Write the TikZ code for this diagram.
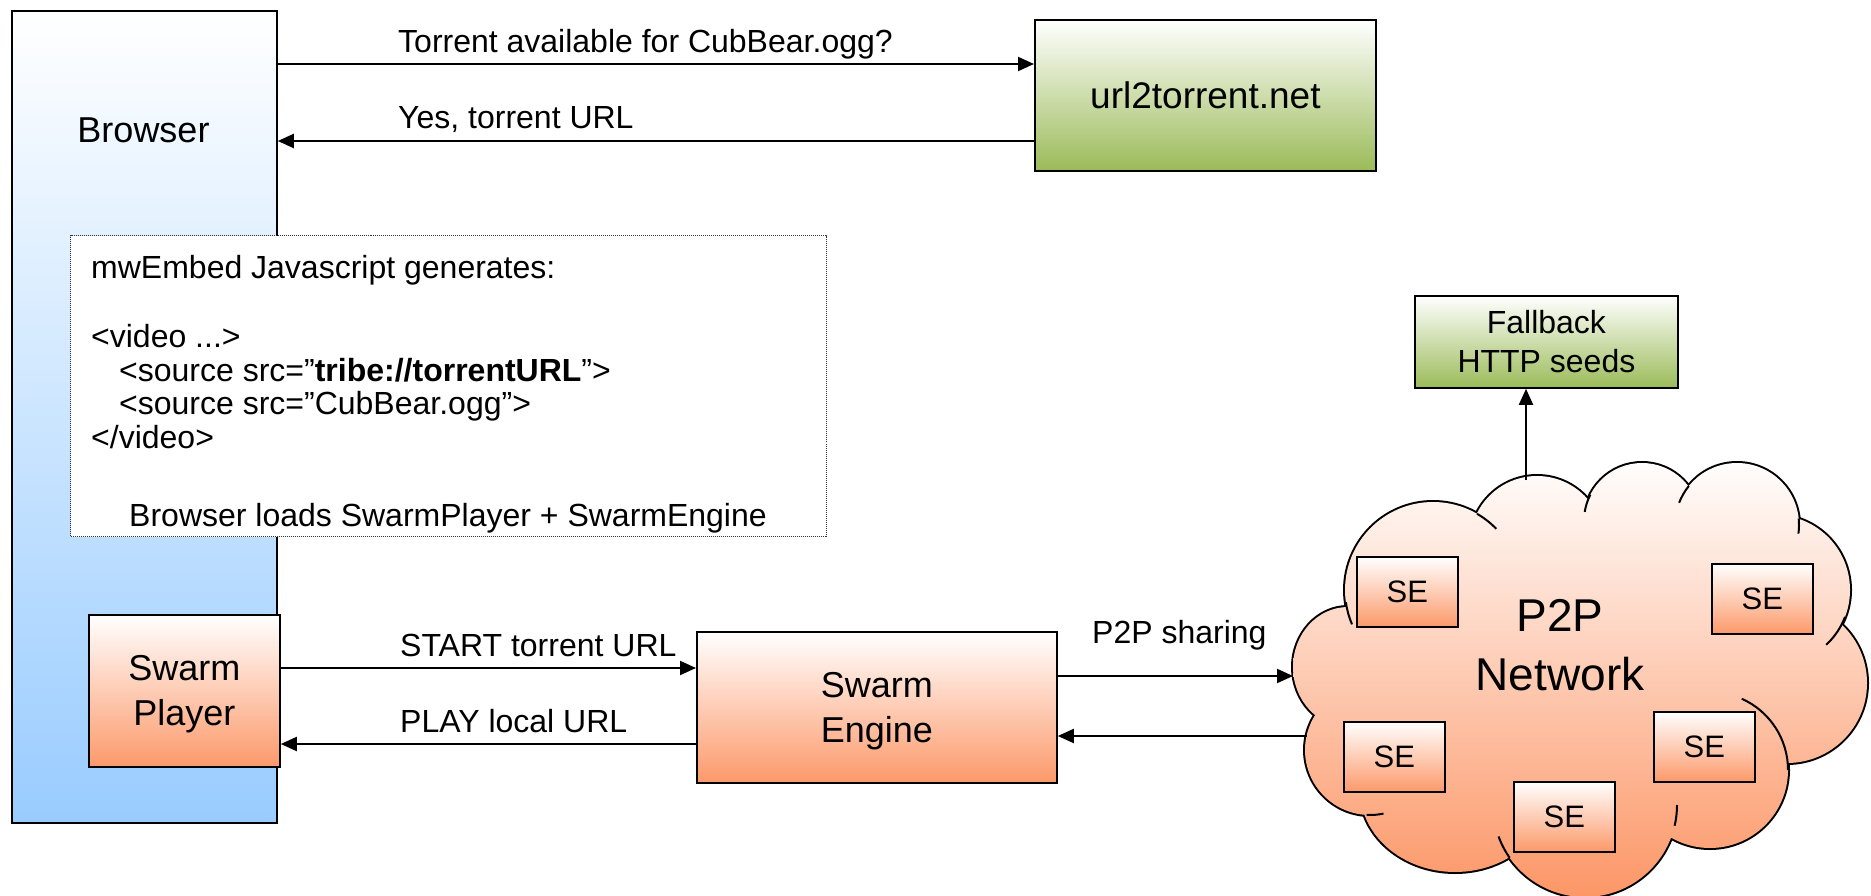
\documentclass[tikz,border=0pt]{standalone}
\usepackage{fontspec}
\setmainfont{Liberation Sans}
\usetikzlibrary{arrows.meta}
\definecolor{blueb}{RGB}{153,204,255}
\definecolor{greenb}{RGB}{155,187,89}
\definecolor{orangeb}{RGB}{252,153,106}
\definecolor{cloudb}{RGB}{252,150,102}
\newcommand{\fsz}[2]{\fontsize{#1}{#2}\selectfont}
\def\cloudlist{1348/667/55/60, 1433/590/88/88, 1537/543/67/67, 1642/521/58/58, 1737/525/62/62, 1775/590/75/75, 1787/683/80/80, 1710/770/78/78, 1585/805/92/92, 1455/790/95/82, 1370/750/65/65}
\begin{document}
\begin{tikzpicture}[x=1pt,y=-1pt,
  box/.style={draw=black, line width=1.8pt, inner sep=0pt, anchor=north west, align=center},
  bluegrad/.style={top color=white, bottom color=blueb},
  greengrad/.style={top color=white, bottom color=greenb},
  orangegrad/.style={top color=white, bottom color=orangeb},
  arr/.style={line width=2pt, -{Triangle[length=16pt,width=14pt]}},
  lbl/.style={anchor=base west, inner sep=0pt, font=\fsz{32}{38}},
  codeline/.style={anchor=base west, inner sep=0pt, font=\fsz{32}{38}},
  sebox/.style={box, orangegrad, minimum width=101pt, minimum height=70pt, font=\fsz{31}{36}},
  hook/.style={line width=2pt}]
\useasboundingbox (0,0) rectangle (1871,896);

% Browser
\node[box, bluegrad, minimum width=265pt, minimum height=812pt] (browser) at (11,10) {};
\node[anchor=base, inner sep=0pt, font=\fsz{36}{44}] (browserlbl) at (143.5,143) {Browser};

% url2torrent
\node[box, greengrad, minimum width=341pt, minimum height=151pt, font=\fsz{37}{44}] (url) at (1034,19) {url2torrent.net};
\coordinate (ya) at (0,64);
\coordinate (yb) at (0,141);
\draw[arr] (browser.east |- ya) -- (url.west |- ya);
\draw[arr] (url.west |- yb) -- (browser.east |- yb);
\node[lbl] (qlbl) at (398,53) {Torrent available for CubBear.ogg?};
\node[lbl] (albl) at (398,129) {Yes, torrent URL};

% mwEmbed box
\node[anchor=north west, draw=black!80, line width=1pt, dash pattern=on 1pt off 1pt, fill=white, minimum width=756pt, minimum height=301pt, inner sep=0pt] (embed) at (70,235) {};
\node[codeline] (c1) at (91,278) {mwEmbed Javascript generates:};
\node[codeline] (c2) at (91,347) {<video ...>};
\node[codeline] (c3) at (119,381) {<source src=”\textbf{tribe://torrentURL}”>};
\node[codeline] (c4) at (119,414) {<source src=”CubBear.ogg”>};
\node[codeline] (c5) at (91,448) {</video>};
\node[anchor=base, inner sep=0pt, font=\fsz{32}{38}] (c6) at (448,526) {Browser loads SwarmPlayer + SwarmEngine};

% Swarm player / engine
\node[box, orangegrad, minimum width=191pt, minimum height=152pt, font=\fsz{36}{45}, text depth=0pt] (player) at (88,614) {Swarm\\Player};
\node[box, orangegrad, minimum width=360pt, minimum height=151pt, font=\fsz{36}{45}, text depth=0pt] (engine) at (696,631) {Swarm\\Engine};
\coordinate (yc) at (0,668);
\coordinate (yd) at (0,744);
\draw[arr] (player.east |- yc) -- (engine.west |- yc);
\draw[arr] (engine.west |- yd) -- (player.east |- yd);
\node[lbl] (slbl) at (400,656) {START torrent URL};
\node[lbl] (plbl) at (400,732) {PLAY local URL};

% Cloud
\foreach \cx/\cy/\rx/\ry in \cloudlist {
  \draw[line width=4pt] (\cx,\cy) ellipse[x radius=\rx pt, y radius=\ry pt];
}
\begin{scope}
  \clip \foreach \cx/\cy/\rx/\ry in \cloudlist {(\cx,\cy) ellipse[x radius=\rx pt, y radius=\ry pt]} (1560,680) ellipse[x radius=230pt, y radius=160pt];
  \shade[top color=white, bottom color=cloudb] (1280,455) rectangle (1880,900);
\end{scope}
\draw[hook] (1433,590) ++(60:88pt) arc[start angle=60, end angle=44, radius=88pt];
\draw[hook] (1433,590) ++(188:88pt) arc[start angle=188, end angle=203, radius=88pt];
\draw[hook] (1370,750) ++(267:65pt) arc[start angle=267, end angle=282, radius=65pt];
\draw[hook] (1585,805) ++(215:92pt) arc[start angle=215, end angle=200, radius=92pt];
\draw[hook] (1585,805) ++(-13:92pt) arc[start angle=-13, end angle=0, radius=92pt];
\draw[hook] (1642,521) ++(153:58pt) arc[start angle=153, end angle=171, radius=58pt];
\draw[hook] (1737,525) ++(141:62pt) arc[start angle=141, end angle=159, radius=62pt];
\draw[hook] (1737,525) ++(6:62pt) arc[start angle=6, end angle=-8, radius=62pt];
\draw[hook] (1775,590) ++(-21:75pt) arc[start angle=-21, end angle=-47, radius=75pt];
\draw[hook] (1710,770) ++(66:78pt) arc[start angle=66, end angle=0, radius=78pt];

\node[inner sep=0pt, align=center, font=\fsz{46}{59}] (p2p) at (1560,645) {P2P\\Network};
\node[sebox] (se1) at (1356,556) {SE};
\node[sebox] (se2) at (1711,563) {SE};
\node[sebox] (se3) at (1343,721) {SE};
\node[sebox] (se4) at (1653,711) {SE};
\node[sebox] (se5) at (1513,781) {SE};

\coordinate (cloudW) at (1293,676);
\coordinate (cloudSW) at (1307,736);
\coordinate (cloudN) at (1526,480);
\draw[arr] (engine.east |- cloudW) -- (cloudW);
\draw[arr] (cloudSW) -- (engine.east |- cloudSW);
\node[lbl] (sharelbl) at (1092,643) {P2P sharing};

% Fallback
\node[box, greengrad, minimum width=263pt, minimum height=92pt, font=\fsz{32}{39}] (fallback) at (1414,295) {Fallback\\HTTP seeds};
\draw[arr] (cloudN) -- (fallback.south -| cloudN);
\end{tikzpicture}
\end{document}
